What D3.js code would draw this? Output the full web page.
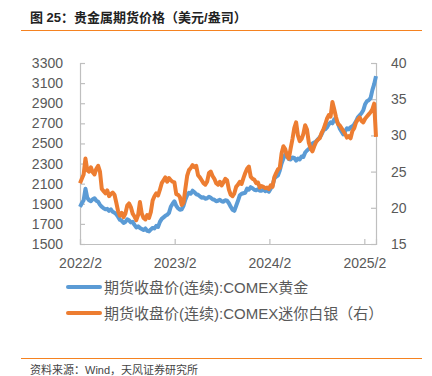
<!DOCTYPE html>
<html>
<head>
<meta charset="utf-8">
<script src="https://cdn.jsdelivr.net/npm/d3@7"></script>
<style>
  html, body { margin: 0; padding: 0; background: #fff; }
  svg { display: block; font-family: "Liberation Sans", Arial, "Noto Sans CJK SC", sans-serif; }
</style>
</head>
<body>
<svg id="chart" width="432" height="376"></svg>
<script>
// ---------- data ----------
const titleText = "图 25：贵金属期货价格（美元/盎司）";
const sourceText = "资料来源：Wind，天风证券研究所";
const seriesNames = ["期货收盘价(连续):COMEX黄金", "期货收盘价(连续):COMEX迷你白银（右）"];
const startDate = "2022-02-01";
const stepDays = 7;
const xTickLabels = ["2022/2", "2023/2", "2024/2", "2025/2"];
const leftTicks = [1500, 1700, 1900, 2100, 2300, 2500, 2700, 2900, 3100, 3300];
const rightTicks = [15, 20, 25, 30, 35, 40];

// COMEX gold, weekly (USD/oz)
const gold = [
  1870, 1905, 1935, 2050, 1960, 1935, 1925, 1945, 1955, 1930,
  1920, 1890, 1870, 1855, 1845, 1850, 1830, 1845, 1820, 1810,
  1795, 1770, 1740, 1730, 1710, 1720, 1745, 1735, 1715, 1720,
  1690, 1665, 1675, 1660, 1650, 1640, 1655, 1630, 1625, 1645,
  1660, 1655, 1680, 1670, 1720, 1750, 1765, 1780, 1790, 1810,
  1870, 1900, 1925, 1880, 1855, 1840, 1845, 1880, 1940, 1985,
  2010, 2000, 2030, 2015, 1995, 1990, 1975, 1960, 1965, 1950,
  1955, 1970, 1960, 1945, 1940, 1925, 1930, 1940, 1925, 1920,
  1935, 1930, 1905, 1870, 1840, 1830, 1880, 1930, 1985, 2000,
  2005, 2010, 2050, 2040, 2065, 2055, 2040, 2035, 2045, 2030,
  2030, 2045, 2025, 2035, 2020, 2050, 2080, 2150, 2170, 2180,
  2230, 2300, 2350, 2390, 2370, 2345, 2340, 2360, 2355, 2330,
  2350, 2340, 2370, 2365, 2410, 2430, 2445, 2470, 2500, 2510,
  2520, 2540, 2560, 2590, 2630, 2640, 2660, 2690, 2710, 2700,
  2740, 2730, 2700, 2650, 2620, 2590, 2620, 2650, 2640, 2660,
  2670, 2690, 2720, 2760, 2780, 2800, 2830, 2890, 2920, 2930,
  2950, 3030, 3090, 3170
];

// COMEX mini silver, weekly (USD/oz, right axis)
const silver = [
  23.4, 24.0, 24.6, 26.8, 25.2, 25.0, 25.6, 24.9, 24.6, 25.4,
  25.8, 25.0, 22.6, 22.3, 22.0, 22.4, 21.6, 21.9, 22.1, 21.8,
  20.7, 19.5, 18.9, 19.3, 18.7, 19.2, 20.3, 20.6, 20.1, 19.2,
  18.8, 18.3, 19.0, 20.8, 19.2, 18.6, 18.4, 19.0, 18.6, 19.4,
  21.0, 21.6, 22.0, 21.7, 22.5, 23.4, 23.8, 24.2, 23.6, 24.1,
  23.8, 23.6, 23.5, 21.9, 21.8, 21.5, 20.4, 20.7, 22.6, 24.4,
  25.2, 25.5, 25.9, 25.6, 25.8, 24.5, 24.2, 23.8, 23.4, 23.2,
  23.6, 24.8, 25.0, 24.4, 24.0, 23.4, 23.2, 23.6, 23.1, 23.5,
  24.0, 23.8, 22.5, 21.8, 21.6, 22.0, 22.9, 23.2, 23.6, 23.3,
  24.1, 24.8, 25.4, 25.7, 24.3, 24.0, 23.9, 23.4, 23.5, 22.8,
  23.0, 22.9, 22.7, 22.8, 22.6, 23.1, 22.9, 24.2, 24.8, 25.3,
  25.5, 27.5, 28.5, 28.1, 27.2, 26.8, 28.2, 29.5, 31.0, 31.8,
  30.0, 29.2, 29.5, 30.2, 31.4, 30.8, 29.0, 28.2, 27.8, 28.5,
  29.1, 29.4, 29.6, 30.3, 30.8, 31.5, 32.3, 32.8, 32.6, 34.6,
  33.6, 32.5, 31.6, 31.4, 31.0, 30.6, 30.2, 29.7, 29.9, 29.6,
  30.6, 31.0, 31.8, 32.2, 32.5, 32.0, 31.8, 32.3, 32.6, 32.9,
  33.2, 33.6, 34.4, 29.8
];

// ---------- layout ----------
const svg = d3.select("#chart");
const plot = { left: 80, right: 376, top: 63, bottom: 244 };
const axisColor = "#bfbfbf";
const textColor = "#595959";
const colors = ["#5B9BD5", "#ED7D31"];
const ruleColor = "#F58220";

const parse = d3.timeParse("%Y-%m-%d");
const t0 = parse(startDate);
const dates = gold.map((_, i) => d3.timeDay.offset(t0, i * stepDays));
const tickDates = xTickLabels.map(s => d3.timeParse("%Y/%m")(s));

const x = d3.scaleTime().domain([t0, dates[dates.length - 1]]).range([plot.left, plot.right]);
const yL = d3.scaleLinear().domain([1500, 3300]).range([plot.bottom, plot.top]);
const yR = d3.scaleLinear().domain([15, 40]).range([plot.bottom, plot.top]);

// title
svg.append("text").attr("x", 30).attr("y", 22)
  .attr("font-size", 13).attr("font-weight", "bold").attr("fill", "#222")
  .text(titleText);
svg.append("line").attr("x1", 21).attr("x2", 422).attr("y1", 30.5).attr("y2", 30.5)
  .attr("stroke", ruleColor).attr("stroke-width", 1);

// axes
const gL = svg.append("g").attr("transform", `translate(${plot.left},0)`)
  .call(d3.axisRight(yL).tickValues(leftTicks).tickSize(5).tickFormat(d3.format("d")));
gL.selectAll("text").attr("x", -17).attr("text-anchor", "end");

const gR = svg.append("g").attr("transform", `translate(${plot.right},0)`)
  .call(d3.axisLeft(yR).tickValues(rightTicks).tickSize(5).tickFormat(d3.format("d")));
gR.selectAll("text").attr("x", 15).attr("text-anchor", "start");

const gB = svg.append("g").attr("transform", `translate(0,${plot.bottom})`)
  .call(d3.axisTop(x).tickValues(tickDates).tickSize(5).tickFormat((d, i) => xTickLabels[i]));
gB.selectAll("text").attr("y", 24).attr("dy", 0);

[gL, gR, gB].forEach(g => {
  g.select(".domain").attr("stroke", axisColor).attr("stroke-width", 1.2);
  g.selectAll(".tick line").attr("stroke", axisColor).attr("stroke-width", 1.2);
  g.selectAll("text").attr("font-size", 14).attr("fill", textColor)
    .attr("font-family", "'Liberation Sans', Arial, sans-serif");
});

// lines
const lineGold = d3.line().x((d, i) => x(dates[i])).y(d => yL(d));
const lineSilver = d3.line().x((d, i) => x(dates[i])).y(d => yR(d));
svg.append("path").datum(gold).attr("d", lineGold)
  .attr("fill", "none").attr("stroke", colors[0]).attr("stroke-width", 4)
  .attr("stroke-linejoin", "round");
svg.append("path").datum(silver).attr("d", lineSilver)
  .attr("fill", "none").attr("stroke", colors[1]).attr("stroke-width", 4)
  .attr("stroke-linejoin", "round");

// legend
const legendY = [287, 313];
seriesNames.forEach((name, i) => {
  svg.append("line").attr("x1", 68).attr("x2", 100).attr("y1", legendY[i]).attr("y2", legendY[i])
    .attr("stroke", colors[i]).attr("stroke-width", 4).attr("stroke-linecap", "round");
  svg.append("text").attr("x", 104).attr("y", legendY[i] + 5.5)
    .attr("font-size", 15).attr("fill", textColor).text(name);
});

// source
svg.append("line").attr("x1", 21).attr("x2", 422).attr("y1", 358.5).attr("y2", 358.5)
  .attr("stroke", ruleColor).attr("stroke-width", 1);
svg.append("text").attr("x", 30).attr("y", 374)
  .attr("font-size", 11).attr("fill", "#444").text(sourceText);
</script>
</body>
</html>
